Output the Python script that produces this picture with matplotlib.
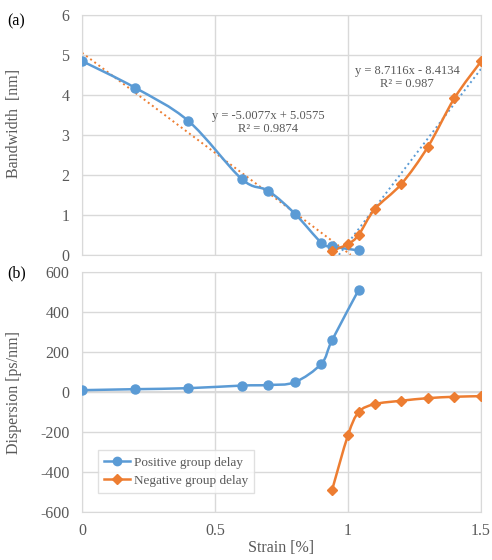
import numpy as np
import matplotlib.pyplot as plt
from matplotlib.path import Path
from matplotlib.patches import PathPatch
from matplotlib.lines import Line2D
from matplotlib.ticker import FuncFormatter

# data
strain_pos = [0, 0.2, 0.4, 0.6, 0.7, 0.8, 0.9, 0.94, 1.04]
bw_pos = [4.85, 4.18, 3.35, 1.9, 1.6, 1.03, 0.3, 0.21, 0.11]
disp_pos = [10, 15, 20, 33, 36, 50, 143, 260, 512]

strain_neg = [0.94, 1.0, 1.04, 1.1, 1.2, 1.3, 1.4, 1.5]
bw_neg = [0.1, 0.27, 0.5, 1.14, 1.77, 2.7, 3.92, 4.84]
disp_neg = [-490, -215, -100, -60, -43, -30, -23, -20]

# linear trendlines (from the chart labels)
fit_pos = (-5.0077, 5.0575)
fit_neg = (8.7116, -8.4134)

blue = "#5b9bd5"
orange = "#ed7d31"
grey = "#595959"
gridc = "#d9d9d9"

plt.rcParams["font.family"] = ["Liberation Serif", "DejaVu Serif"]
plt.rcParams["axes.unicode_minus"] = False


def smooth(ax, x, y, color):
    # excel-like smoothed line drawn as bezier segments
    p = np.column_stack([x, y]).astype(float)
    n = len(p)
    verts = [p[0]]
    codes = [Path.MOVETO]
    for i in range(n - 1):
        p0 = p[i - 1] if i > 0 else p[i]
        p3 = p[i + 2] if i + 2 < n else p[i + 1]
        c1 = p[i] + (p[i + 1] - p0) / 6
        c2 = p[i + 1] - (p3 - p[i]) / 6
        verts += [c1, c2, p[i + 1]]
        codes += [Path.CURVE4] * 3
    ax.add_patch(PathPatch(Path(verts, codes), fill=False, edgecolor=color, lw=1.8, zorder=3))


def style(ax):
    ax.set_xlim(0, 1.5)
    ax.set_xticks([0, 0.5, 1, 1.5])
    ax.xaxis.set_major_formatter(FuncFormatter(lambda v, p: f"{v:g}"))
    ax.grid(True, color=gridc, lw=1)
    ax.set_axisbelow(True)
    for s in ax.spines.values():
        s.set_color(gridc)
    ax.tick_params(length=0, colors=grey, labelsize=11.5)
    ax.tick_params(axis="y", pad=9)
    ax.tick_params(axis="x", pad=8)


fig = plt.figure(figsize=(4.92, 5.6), dpi=100)
ax1 = fig.add_axes([0.1667, 0.545, 0.811, 0.428])
ax2 = fig.add_axes([0.1667, 0.0857, 0.811, 0.428])

# (a) bandwidth
style(ax1)
ax1.set_ylim(0, 6)
ax1.set_xticklabels([])
smooth(ax1, strain_pos, bw_pos, blue)
smooth(ax1, strain_neg, bw_neg, orange)
ax1.plot(strain_pos, bw_pos, "o", color=blue, ms=6.5, zorder=4)
ax1.plot(strain_neg, bw_neg, "D", color=orange, ms=5.5, zorder=4)

xa = np.array([0, -fit_pos[1] / fit_pos[0]])
ax1.plot(xa, fit_pos[0] * xa + fit_pos[1], ":", color=orange, lw=1.4, zorder=2)
xb = np.array([-fit_neg[1] / fit_neg[0], 1.5])
ax1.plot(xb, fit_neg[0] * xb + fit_neg[1], ":", color=blue, lw=1.4, zorder=2)

ax1.text(0.70, 3.32, "y = -5.0077x + 5.0575\nR² = 0.9874", ha="center", va="center",
         fontsize=9, color=grey, linespacing=1.1)
ax1.text(1.223, 4.44, "y = 8.7116x - 8.4134\nR² = 0.987", ha="center", va="center",
         fontsize=9, color=grey, linespacing=1.1)
ax1.set_ylabel("Bandwidth  [nm]", color=grey, fontsize=11.5)
ax1.yaxis.set_label_coords(-0.150, 0.55)

# (b) dispersion
style(ax2)
ax2.set_ylim(-600, 600)
ax2.set_yticks(np.arange(-600, 601, 200))
ax2.axhline(0, color=gridc, lw=1.5, zorder=1)
smooth(ax2, strain_pos, disp_pos, blue)
smooth(ax2, strain_neg, disp_neg, orange)
ax2.plot(strain_pos, disp_pos, "o", color=blue, ms=6.5, zorder=4)
ax2.plot(strain_neg, disp_neg, "D", color=orange, ms=5.5, zorder=4)
ax2.set_ylabel("Dispersion [ps/nm]", color=grey, fontsize=11.5)
ax2.yaxis.set_label_coords(-0.150, 0.50)
ax2.set_xlabel("Strain [%]", color=grey, fontsize=11.5, va="center")
ax2.xaxis.set_label_coords(0.5, -0.149)

handles = [Line2D([], [], color=blue, marker="o", ms=6, lw=1.8),
           Line2D([], [], color=orange, marker="D", ms=5, lw=1.8)]
leg = ax2.legend(handles, ["Positive group delay", "Negative group delay"],
                 loc="upper left", bbox_to_anchor=(0.04, 0.257), fontsize=9.5,
                 frameon=True, fancybox=False, edgecolor=gridc, labelcolor=grey,
                 handlelength=2.0, handletextpad=0.3, borderpad=0.45,
                 labelspacing=0.45, borderaxespad=0)

fig.text(0.014, 0.955, "(a)", fontsize=11.5, color="black")
fig.text(0.014, 0.505, "(b)", fontsize=11.5, color="black")

fig.savefig("out.png", dpi=100)
